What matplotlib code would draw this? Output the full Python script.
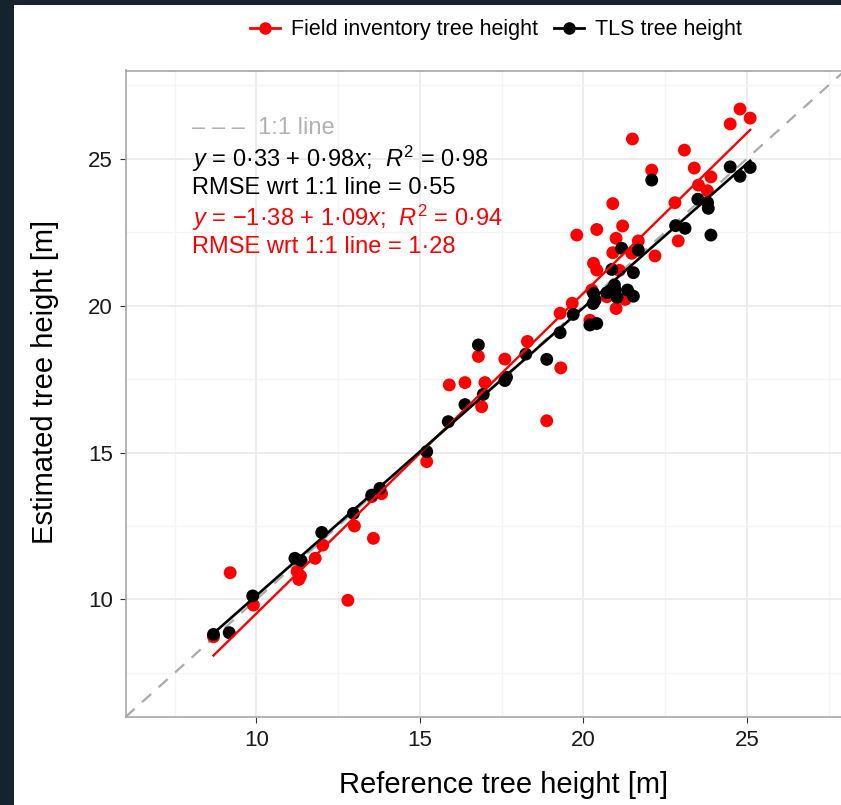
import matplotlib
matplotlib.use('Agg')
import matplotlib.pyplot as plt
from matplotlib.lines import Line2D
from matplotlib.patches import Rectangle
import numpy as np

plt.rcParams['font.family'] = 'Liberation Sans'
plt.rcParams['mathtext.fontset'] = 'custom'
plt.rcParams['mathtext.rm'] = 'Liberation Sans'
plt.rcParams['mathtext.it'] = 'Liberation Sans:italic'

#---------------------------------------------------------------------------------------#
# field inventory (red) vs reference
field_ref = [8.69, 9.2, 9.91, 11.25, 11.35, 11.3, 11.8, 12.03, 12.8, 13.0, 13.58, 13.53, 13.83,
             15.21, 15.9, 16.38, 16.79, 16.99, 16.89, 17.6, 18.29, 18.88, 19.31, 19.29, 19.66,
             20.2, 19.8, 20.41, 20.9, 21.2, 21.0, 20.9, 21.68, 21.48, 22.19, 20.31, 20.41, 21.1,
             20.26, 20.72, 21.28, 21.0, 21.5, 22.09, 22.8, 22.9, 23.09, 23.39, 23.52, 23.79,
             23.9, 24.49, 24.79, 25.1]
field_est = [8.73, 10.91, 9.81, 10.95, 10.8, 10.68, 11.4, 11.85, 9.97, 12.5, 12.08, 13.5, 13.6,
             14.69, 17.3, 17.38, 18.27, 17.38, 16.56, 18.18, 18.78, 16.08, 17.88, 19.74, 20.08,
             19.5, 22.4, 22.59, 23.47, 22.71, 22.29, 21.8, 22.2, 21.78, 21.69, 21.44, 21.21, 21.2,
             20.53, 20.3, 20.21, 19.9, 25.67, 24.61, 23.5, 22.2, 25.29, 24.68, 24.1, 23.91,
             24.38, 26.18, 26.69, 26.38]
# TLS (black) vs reference
tls_ref = [8.69, 9.17, 9.89, 11.18, 11.37, 12.0, 12.97, 13.53, 13.78, 15.21, 15.87, 16.38,
           16.79, 16.94, 17.6, 17.65, 18.24, 18.88, 19.29, 19.69, 20.2, 20.41, 20.3, 20.31,
           20.36, 20.72, 20.97, 21.03, 21.35, 21.53, 20.87, 21.53, 21.17, 21.68, 20.95, 22.09,
           22.82, 23.11, 23.5, 23.82, 23.8, 23.9, 24.49, 24.79, 25.1]
tls_est = [8.81, 8.87, 10.12, 11.4, 11.32, 12.28, 12.93, 13.55, 13.78, 15.03, 16.05, 16.63,
           18.66, 16.98, 17.45, 17.56, 18.35, 18.17, 19.08, 19.7, 19.34, 19.39, 20.07, 20.42,
           20.19, 20.44, 20.53, 20.28, 20.53, 20.32, 21.23, 21.12, 21.95, 21.89, 20.7, 24.27,
           22.72, 22.63, 23.62, 23.31, 23.5, 22.4, 24.72, 24.4, 24.7]

# fitted lines (intercept, slope)
tls_fit = (0.33, 0.98)
field_fit = (-1.38, 1.09)
lims = [6, 28]
ticks = [10, 15, 20, 25]
minor_ticks = [7.5, 12.5, 17.5, 22.5, 27.5]
#---------------------------------------------------------------------------------------#
W, H = 841, 805
fig = plt.figure(figsize=(W/100, H/100), dpi=100, facecolor='#14232d')
fig.add_artist(Rectangle((14/W, 0), 1, 1 - 5/H, transform=fig.transFigure,
                         facecolor='white', edgecolor='none', zorder=-10))
ax = fig.add_axes([125.5/W, 1 - 717/H, 719.5/W, 646.5/H])

ax.set_xlim(lims)
ax.set_ylim(lims)
ax.set_xticks(ticks)
ax.set_yticks(ticks)
ax.set_xticks(minor_ticks, minor=True)
ax.set_yticks(minor_ticks, minor=True)
ax.grid(which='major', color='#ebebeb', lw=1.3, zorder=0)
ax.grid(which='minor', color='#f4f4f4', lw=0.9, zorder=0)
ax.set_axisbelow(True)
for s in ax.spines.values():
    s.set_color('#a8a8a8')
    s.set_linewidth(1.2)
ax.tick_params(which='major', length=4, color='#333333', labelsize=16,
               labelcolor='#1a1a1a', pad=5)
ax.tick_params(which='minor', length=0)

ax.plot(lims, lims, color='#aaaaaa', lw=1.6, dashes=(5.5, 4.5), zorder=1)
ax.scatter(field_ref, field_est, s=86, color='#ff0000', edgecolors='none', zorder=2)
ax.scatter(tls_ref, tls_est, s=86, color='black', edgecolors='none', zorder=3)

xf = np.array([min(field_ref), max(field_ref)])
ax.plot(xf, field_fit[0] + field_fit[1]*xf, color='#ff0000', lw=1.7, zorder=4)
xt = np.array([min(tls_ref), max(tls_ref)])
ax.plot(xt, tls_fit[0] + tls_fit[1]*xt, color='black', lw=1.9, zorder=5)

ax.set_xlabel('Reference tree height [m]', fontsize=21)
ax.set_ylabel('Estimated tree height [m]', fontsize=21)
ax.xaxis.set_label_coords(0.525, -0.083)
ax.yaxis.set_label_coords(-0.093, 0.518)

# annotation block
tx = (192 - 125.5) / 719.5
def ty(py):
    return (717 - py) / 646.5
ax.text(tx, ty(128), '– – –  1:1 line', transform=ax.transAxes, fontsize=17,
        color='#b3b3b3', va='center')
ax.text(tx, ty(159), '$y$ = 0·33 + 0·98$x$;  $R^2$ = 0·98', transform=ax.transAxes,
        fontsize=17, color='black', va='center')
ax.text(tx, ty(188), 'RMSE wrt 1:1 line = 0·55', transform=ax.transAxes, fontsize=17,
        color='black', va='center')
ax.text(tx, ty(218), '$y$ = −1·38 + 1·09$x$;  $R^2$ = 0·94', transform=ax.transAxes,
        fontsize=17, color='#ff0000', va='center')
ax.text(tx, ty(247), 'RMSE wrt 1:1 line = 1·28', transform=ax.transAxes, fontsize=17,
        color='#ff0000', va='center')

handles = [Line2D([], [], color='#ff0000', marker='o', markersize=8, lw=2),
           Line2D([], [], color='black', marker='o', markersize=8, lw=2)]
fig.legend(handles, ['Field inventory tree height', 'TLS tree height'], loc='center',
           bbox_to_anchor=(496/W, 1 - 30/H), ncol=2, frameon=False, fontsize=15.5,
           handlelength=1.4, handletextpad=0.5, columnspacing=0.75)

fig.savefig('out.png', dpi=100, facecolor=fig.get_facecolor())
